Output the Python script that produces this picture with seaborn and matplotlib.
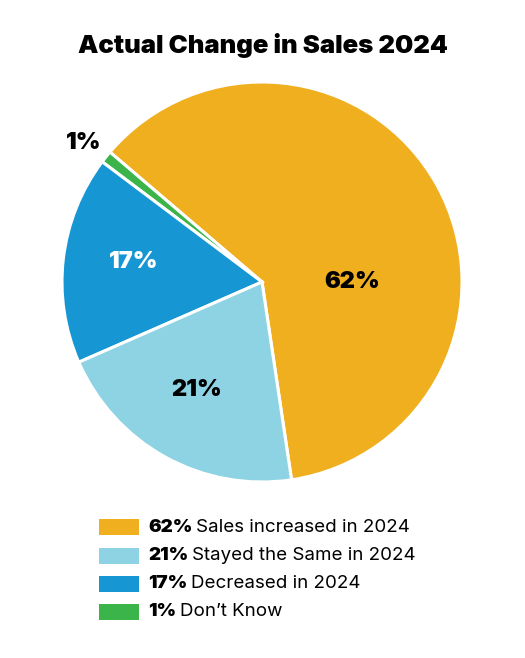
import matplotlib.pyplot as plt
import numpy as np
import seaborn as sns
from matplotlib.patches import Rectangle

# data
shares = [62, 1, 17, 21]
legend_text = ["Sales increased in 2024", "Don\u2019t Know",
               "Decreased in 2024", "Stayed the Same in 2024"]
colors = ["#F0AF1E", "#3BB44A", "#1796D4", "#8ED3E3"]
label_colors = ["black", "black", "white", "black"]
legend_order = [0, 3, 2, 1]

# label placement per slice: (angle in degrees, radius)
label_pos = [(0, 0.45), (142, 1.13), (171, 0.65), (239, 0.63)]

sns.set_theme(style="white")
plt.rcParams["font.family"] = ["Inter", "DejaVu Sans"]
plt.rcParams["text.color"] = "black"

fig = plt.figure(figsize=(5.25, 6.58), dpi=100)
ax = fig.add_axes([62 / 525, 176 / 658, 400 / 525, 400 / 658])

wedges, _ = ax.pie(shares, colors=colors, startangle=-81.5, counterclock=True,
                   radius=1.0, wedgeprops=dict(edgecolor="white", linewidth=2.2))
ax.set_xlim(-1.0, 1.0)
ax.set_ylim(-1.0, 1.0)
ax.set_aspect("equal")
ax.axis("off")

for val, (ang, r), c in zip(shares, label_pos, label_colors):
    a = np.deg2rad(ang)
    ax.text(r * np.cos(a), r * np.sin(a), f"{val}%", ha="center", va="center",
            fontsize=17, fontweight="black", color=c)

fig.text(0.5, 1 - 45 / 658, "Actual Change in Sales 2024", ha="center",
         va="center", fontsize=18.5, fontweight="black", color="black")

# legend, drawn by hand so the percent can be bold
row_y = [527, 556, 584, 612]
for y, i in zip(row_y, legend_order):
    yf = 1 - y / 658
    fig.add_artist(Rectangle((99 / 525, yf - 8 / 658), 40 / 525, 16 / 658,
                             transform=fig.transFigure, facecolor=colors[i],
                             edgecolor="none"))
    t = fig.text(148 / 525, yf, f"{shares[i]}%", ha="left", va="center",
                 fontsize=13.5, fontweight="black", color="black")
    fig.canvas.draw()
    bb = t.get_window_extent()
    x2 = (bb.x1 + 4) / fig.bbox.width
    fig.text(x2, yf, legend_text[i], ha="left", va="center", fontsize=13.5,
             color="black")

fig.savefig("out.png", dpi=100)
